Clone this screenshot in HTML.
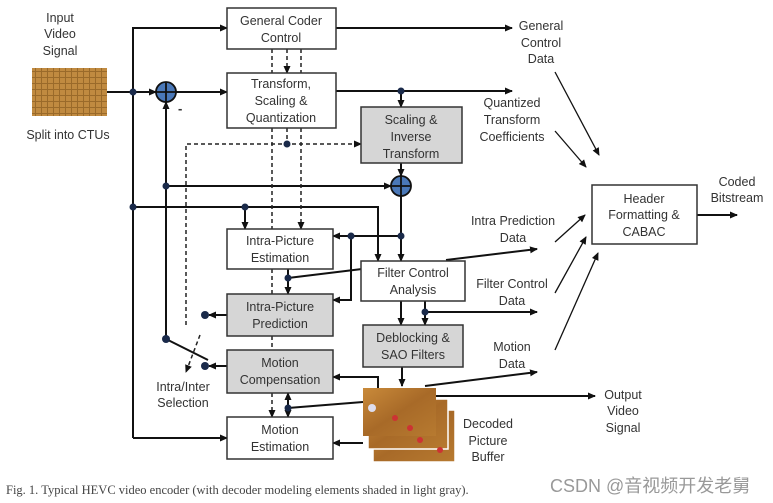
<!DOCTYPE html>
<html><head><meta charset="utf-8"><style>
html,body{margin:0;padding:0;background:#fff;}
svg{display:block;}
text{font-family:"Liberation Sans",Arial,sans-serif;font-size:12.5px;fill:#333;}
.c{text-anchor:middle;}
</style></head><body>
<svg width="773" height="503" viewBox="0 0 773 503" xmlns="http://www.w3.org/2000/svg">
<defs>
<marker id="a" markerWidth="8" markerHeight="8" refX="7" refY="4" orient="auto" markerUnits="userSpaceOnUse"><path d="M0,0.5 L8,4 L0,7.5z" fill="#111"/></marker>
<pattern id="grid" width="6" height="6" patternUnits="userSpaceOnUse"><rect width="6" height="6" fill="#9a6a2a"/><rect width="5" height="5" fill="#c08a40"/></pattern>
<linearGradient id="fl" x1="0" y1="0" x2="1" y2="1"><stop offset="0" stop-color="#c98a3a"/><stop offset="0.5" stop-color="#a86a28"/><stop offset="1" stop-color="#b77a30"/></linearGradient>
</defs>
<g stroke="#111" stroke-width="2" fill="none">
<line x1="107" y1="92" x2="156" y2="92" marker-end="url(#a)"/>
<polyline points="133,438 133,28 227,28" marker-end="url(#a)"/>
<line x1="133" y1="438" x2="227" y2="438" marker-end="url(#a)"/>
<line x1="176" y1="92" x2="227" y2="92" marker-end="url(#a)"/>
<line x1="336" y1="28" x2="512" y2="28" marker-end="url(#a)"/>
<line x1="336" y1="91" x2="512" y2="91" marker-end="url(#a)"/>
<line x1="401" y1="91" x2="401" y2="107" marker-end="url(#a)"/>
<line x1="401" y1="163" x2="401" y2="176" marker-end="url(#a)"/>
<polyline points="166,339 166,102" marker-end="url(#a)"/>
<line x1="166" y1="186" x2="391" y2="186" marker-end="url(#a)"/>
<line x1="401" y1="196" x2="401" y2="261" marker-end="url(#a)"/>
<polyline points="133,207 378,207 378,261" marker-end="url(#a)"/>
<line x1="245" y1="207" x2="245" y2="229" marker-end="url(#a)"/>
<line x1="401" y1="236" x2="333" y2="236" marker-end="url(#a)"/>
<polyline points="351,236 351,300 333,300" marker-end="url(#a)"/>
<line x1="362" y1="269" x2="288" y2="278"/>
<line x1="288" y1="269" x2="288" y2="294" marker-end="url(#a)"/>
<line x1="446" y1="260" x2="537" y2="249" marker-end="url(#a)"/>
<line x1="401" y1="301" x2="401" y2="325" marker-end="url(#a)"/>
<line x1="425" y1="301" x2="425" y2="325" marker-end="url(#a)"/>
<line x1="425" y1="312" x2="537" y2="312" marker-end="url(#a)"/>
<line x1="402" y1="367" x2="402" y2="386" marker-end="url(#a)"/>
<line x1="425" y1="386" x2="537" y2="372" marker-end="url(#a)"/>
<line x1="436" y1="396" x2="595" y2="396" marker-end="url(#a)"/>
<polyline points="378,388 378,377 333,377" marker-end="url(#a)"/>
<line x1="363" y1="443" x2="333" y2="443" marker-end="url(#a)"/>
<line x1="363" y1="402" x2="288" y2="408"/>
<line x1="288" y1="400" x2="288" y2="393" marker-end="url(#a)"/>
<line x1="288" y1="400" x2="288" y2="417" marker-end="url(#a)"/>
<line x1="227" y1="315" x2="209" y2="315" marker-end="url(#a)"/>
<line x1="227" y1="366" x2="209" y2="366" marker-end="url(#a)"/>
<line x1="166" y1="339" x2="208" y2="360"/>
<line x1="697" y1="215" x2="737" y2="215" marker-end="url(#a)"/>
</g>
<g stroke="#111" stroke-width="1.3" fill="none">
<line x1="555" y1="72" x2="599" y2="155" marker-end="url(#a)"/>
<line x1="555" y1="131" x2="586" y2="167" marker-end="url(#a)"/>
<line x1="555" y1="242" x2="585" y2="215" marker-end="url(#a)"/>
<line x1="555" y1="293" x2="586" y2="237" marker-end="url(#a)"/>
<line x1="555" y1="350" x2="598" y2="253" marker-end="url(#a)"/>
</g>
<g stroke="#222" stroke-width="1.5" fill="none" stroke-dasharray="4,3">
<line x1="272" y1="49" x2="272" y2="73"/>
<line x1="287" y1="49" x2="287" y2="73" marker-end="url(#a)"/>
<line x1="301" y1="49" x2="301" y2="73"/>
<line x1="272" y1="128" x2="272" y2="229"/>
<line x1="287" y1="128" x2="287" y2="144"/>
<line x1="301" y1="128" x2="301" y2="229" marker-end="url(#a)"/>
<polyline points="186,325 186,144 361,144" marker-end="url(#a)"/>
<line x1="272" y1="269" x2="272" y2="294"/>
<line x1="272" y1="336" x2="272" y2="350"/>
<line x1="272" y1="393" x2="272" y2="417" marker-end="url(#a)"/>
<line x1="200" y1="335" x2="186" y2="372" marker-end="url(#a)"/>
</g>
<g stroke="#333" stroke-width="1.5">
<rect x="227" y="8" width="109" height="41" fill="#fff"/>
<rect x="227" y="73" width="109" height="55" fill="#fff"/>
<rect x="361" y="107" width="101" height="56" fill="#d6d6d6"/>
<rect x="227" y="229" width="106" height="40" fill="#fff"/>
<rect x="361" y="261" width="104" height="40" fill="#fff"/>
<rect x="227" y="294" width="106" height="42" fill="#d6d6d6"/>
<rect x="363" y="325" width="100" height="42" fill="#d6d6d6"/>
<rect x="227" y="350" width="106" height="43" fill="#d6d6d6"/>
<rect x="227" y="417" width="106" height="42" fill="#fff"/>
<rect x="592" y="185" width="105" height="59" fill="#fff"/>
</g>
<g stroke="#111" stroke-width="1.8">
<circle cx="166" cy="92" r="10" fill="#4a78b8"/>
<line x1="156" y1="92" x2="176" y2="92"/><line x1="166" y1="82" x2="166" y2="102"/>
<circle cx="401" cy="186" r="10" fill="#4a78b8"/>
<line x1="391" y1="186" x2="411" y2="186"/><line x1="401" y1="176" x2="401" y2="196"/>
</g>
<text x="178" y="113" style="font-size:13px;font-weight:bold">-</text>
<g fill="#1a2a4a">
<circle cx="133" cy="92" r="3.5"/><circle cx="133" cy="207" r="3.5"/><circle cx="166" cy="186" r="3.5"/>
<circle cx="245" cy="207" r="3.5"/><circle cx="401" cy="91" r="3.5"/><circle cx="287" cy="144" r="3.5"/>
<circle cx="351" cy="236" r="3.5"/><circle cx="401" cy="236" r="3.5"/><circle cx="288" cy="278" r="3.5"/>
<circle cx="425" cy="312" r="3.5"/><circle cx="288" cy="408" r="3.5"/>
<circle cx="205" cy="315" r="4"/><circle cx="205" cy="366" r="4"/><circle cx="166" cy="339" r="4"/>
</g>
<rect x="32" y="68" width="75" height="48" fill="url(#grid)"/>
<rect x="373" y="410" width="82" height="52" fill="url(#fl)" stroke="#fff" stroke-width="1.5"/>
<rect x="368" y="399" width="80" height="50" fill="url(#fl)" stroke="#fff" stroke-width="1.5"/>
<rect x="363" y="388" width="73" height="48" fill="url(#fl)"/>
<g fill="#c33"><circle cx="395" cy="418" r="3"/><circle cx="410" cy="428" r="3"/><circle cx="420" cy="440" r="3"/><circle cx="440" cy="450" r="3"/></g>
<circle cx="372" cy="408" r="4" fill="#dde"/>
<g>
<text class="c" x="60" y="22">Input</text><text class="c" x="60" y="38">Video</text><text class="c" x="60" y="55">Signal</text>
<text class="c" x="68" y="139">Split into CTUs</text>
<text class="c" x="281" y="25">General Coder</text><text class="c" x="281" y="42">Control</text>
<text class="c" x="281" y="88">Transform,</text><text class="c" x="281" y="105">Scaling &amp;</text><text class="c" x="281" y="122">Quantization</text>
<text class="c" x="411" y="124">Scaling &amp;</text><text class="c" x="411" y="141">Inverse</text><text class="c" x="411" y="158">Transform</text>
<text class="c" x="280" y="245">Intra-Picture</text><text class="c" x="280" y="262">Estimation</text>
<text class="c" x="413" y="277">Filter Control</text><text class="c" x="413" y="294">Analysis</text>
<text class="c" x="280" y="311">Intra-Picture</text><text class="c" x="280" y="328">Prediction</text>
<text class="c" x="413" y="342">Deblocking &amp;</text><text class="c" x="413" y="359">SAO Filters</text>
<text class="c" x="280" y="367">Motion</text><text class="c" x="280" y="384">Compensation</text>
<text class="c" x="280" y="434">Motion</text><text class="c" x="280" y="451">Estimation</text>
<text class="c" x="644" y="203">Header</text><text class="c" x="644" y="219">Formatting &amp;</text><text class="c" x="644" y="236">CABAC</text>
<text class="c" x="183" y="391">Intra/Inter</text><text class="c" x="183" y="407">Selection</text>
<text class="c" x="488" y="428">Decoded</text><text class="c" x="488" y="445">Picture</text><text class="c" x="488" y="461">Buffer</text>
<text class="c" x="541" y="30">General</text><text class="c" x="541" y="47">Control</text><text class="c" x="541" y="63">Data</text>
<text class="c" x="512" y="107">Quantized</text><text class="c" x="512" y="124">Transform</text><text class="c" x="512" y="141">Coefficients</text>
<text class="c" x="513" y="225">Intra Prediction</text><text class="c" x="513" y="242">Data</text>
<text class="c" x="512" y="288">Filter Control</text><text class="c" x="512" y="305">Data</text>
<text class="c" x="512" y="351">Motion</text><text class="c" x="512" y="368">Data</text>
<text class="c" x="623" y="399">Output</text><text class="c" x="623" y="415">Video</text><text class="c" x="623" y="432">Signal</text>
<text class="c" x="737" y="186">Coded</text><text class="c" x="737" y="202">Bitstream</text>
</g>
<text x="6" y="494" style="font-family:'Liberation Serif',serif;font-size:12.5px;fill:#444">Fig. 1.   Typical HEVC video encoder (with decoder modeling elements shaded in light gray).</text>
<text x="550" y="492" style="font-family:'Liberation Sans','Noto Sans CJK SC',sans-serif;font-size:18px;fill:#999">CSDN @音视频开发老舅</text>
</svg>
</body></html>
